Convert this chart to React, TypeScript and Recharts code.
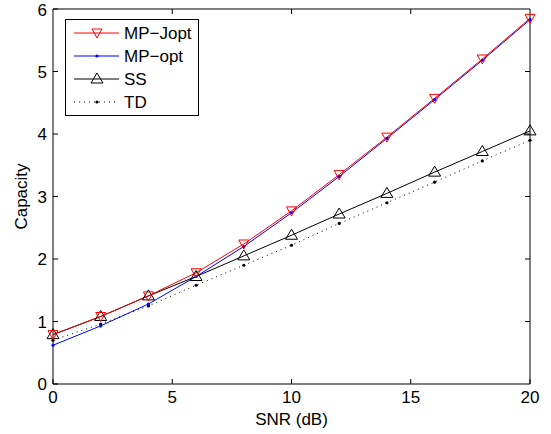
import { LineChart, Line, XAxis, YAxis, ReferenceLine } from 'recharts'

const snr = [0, 2, 4, 6, 8, 10, 12, 14, 16, 18, 20]
const mpJopt = [0.79, 1.08, 1.41, 1.78, 2.24, 2.77, 3.35, 3.95, 4.57, 5.2, 5.85]
const mpOpt = [0.62, 0.93, 1.28, 1.72, 2.2, 2.74, 3.32, 3.93, 4.55, 5.18, 5.83]
const ss = [0.79, 1.08, 1.41, 1.72, 2.05, 2.38, 2.72, 3.05, 3.39, 3.72, 4.05]
const td = [0.7, 0.96, 1.25, 1.58, 1.9, 2.22, 2.57, 2.9, 3.23, 3.57, 3.9]

const xTicks = [0, 5, 10, 15, 20]
const yTicks = [0, 1, 2, 3, 4, 5, 6]

const data = snr.map((s, i) => ({
  snr: s,
  mpJopt: mpJopt[i],
  mpOpt: mpOpt[i],
  ss: ss[i],
  td: td[i],
}))

const FONT = '"Liberation Sans", Arial, Helvetica, sans-serif'
const X_MAX = 20
const Y_MAX = 6
// inward tick length on the top / right frame, in data units (~5px)
const TOP_TICK = 0.08
const RIGHT_TICK = 0.21

const TriDown = (props: any) => {
  const { cx, cy, stroke } = props
  if (cx == null || cy == null) return null
  return (
    <polygon
      points={`${cx - 5},${cy - 4} ${cx + 5},${cy - 4} ${cx},${cy + 5}`}
      fill="none"
      stroke={stroke}
      strokeWidth={1}
    />
  )
}

const TriUp = (props: any) => {
  const { cx, cy, stroke } = props
  if (cx == null || cy == null) return null
  return (
    <polygon
      points={`${cx},${cy - 6} ${cx - 6},${cy + 4} ${cx + 6},${cy + 4}`}
      fill="none"
      stroke={stroke}
      strokeWidth={1}
    />
  )
}

const SmallDot = (props: any) => {
  const { cx, cy, stroke } = props
  if (cx == null || cy == null) return null
  return <circle cx={cx} cy={cy} r={1.6} fill={stroke} stroke="none" />
}

const entries = [
  { name: 'MP\u2212Jopt', color: '#ff0000', dash: undefined, mark: 'down' },
  { name: 'MP\u2212opt', color: '#0000ff', dash: undefined, mark: 'dot' },
  { name: 'SS', color: '#000000', dash: undefined, mark: 'up' },
  { name: 'TD', color: '#000000', dash: '1 4', mark: 'dot' },
]

function LegendBox() {
  return (
    <svg width={134} height={97} style={{ display: 'block' }}>
      <rect x={0.5} y={0.5} width={133} height={96} fill="#fff" stroke="#000" />
      {entries.map((e, i) => {
        const y = 14 + i * 23
        const cx = 32
        return (
          <g key={e.name}>
            <line x1={9} x2={54} y1={y} y2={y} stroke={e.color} strokeDasharray={e.dash} />
            {e.mark === 'down' && <TriDown cx={cx} cy={y} stroke={e.color} />}
            {e.mark === 'up' && <TriUp cx={cx} cy={y} stroke={e.color} />}
            {e.mark === 'dot' && <SmallDot cx={cx} cy={y} stroke={e.color} />}
            <text x={59} y={y + 6} fontSize={17} fontFamily={FONT} fill="#000">
              {e.name}
            </text>
          </g>
        )
      })}
    </svg>
  )
}

export default function App() {
  return (
    <div style={{ position: 'absolute', left: 0, top: 0, width: 551, height: 434, background: '#fff' }}>
      <LineChart
        width={551}
        height={434}
        data={data}
        margin={{ top: 9, right: 21, left: 0, bottom: 0 }}
      >
        <XAxis
          dataKey="snr"
          type="number"
          domain={[0, X_MAX]}
          ticks={xTicks}
          height={50}
          tickSize={-5}
          tickMargin={12}
          stroke="#000"
          tick={{ fill: '#000', fontSize: 17, fontFamily: FONT }}
          label={{ value: 'SNR (dB)', position: 'insideBottom', offset: 9, fill: '#000', fontSize: 17, fontFamily: FONT }}
        />
        <YAxis
          type="number"
          domain={[0, Y_MAX]}
          ticks={yTicks}
          width={53}
          tickSize={-5}
          tickMargin={11}
          stroke="#000"
          tick={{ fill: '#000', fontSize: 17, fontFamily: FONT }}
          label={{ value: 'Capacity', angle: -90, position: 'insideLeft', offset: 21, fill: '#000', fontSize: 17, fontFamily: FONT, style: { textAnchor: 'middle' } }}
        />
        <ReferenceLine y={Y_MAX} stroke="#000" />
        <ReferenceLine x={X_MAX} stroke="#000" />
        {xTicks.slice(1, -1).map(t => (
          <ReferenceLine key={'tx' + t} segment={[{ x: t, y: Y_MAX }, { x: t, y: Y_MAX - TOP_TICK }]} stroke="#000" />
        ))}
        {yTicks.slice(1, -1).map(t => (
          <ReferenceLine key={'ty' + t} segment={[{ x: X_MAX, y: t }, { x: X_MAX - RIGHT_TICK, y: t }]} stroke="#000" />
        ))}
        <Line dataKey="td" name="TD" stroke="#000" strokeWidth={1} strokeDasharray="1 4" dot={<SmallDot />} isAnimationActive={false} />
        <Line dataKey="ss" name="SS" stroke="#000" strokeWidth={1} dot={<TriUp />} isAnimationActive={false} />
        <Line dataKey="mpOpt" name="MP-opt" stroke="#0000ff" strokeWidth={1} dot={<SmallDot />} isAnimationActive={false} />
        <Line dataKey="mpJopt" name="MP-Jopt" stroke="#ff0000" strokeWidth={1} dot={<TriDown />} isAnimationActive={false} />
      </LineChart>
      <div style={{ position: 'absolute', left: 65, top: 19 }}>
        <LegendBox />
      </div>
    </div>
  )
}
